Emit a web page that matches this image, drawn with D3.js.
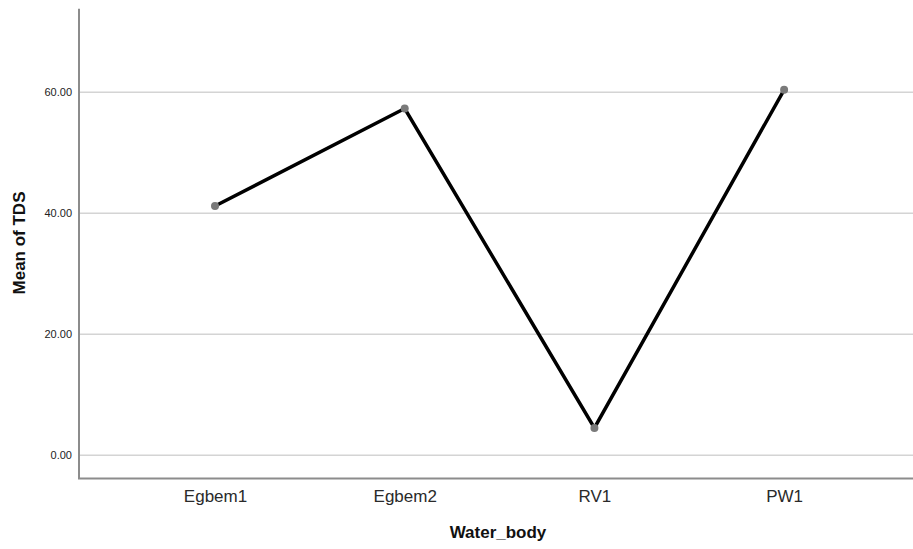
<!DOCTYPE html>
<html>
<head>
<meta charset="utf-8">
<script src="https://cdn.jsdelivr.net/npm/d3@7"></script>
<style>
  html, body { margin: 0; padding: 0; background: #fff; }
  svg { display: block; }
</style>
</head>
<body>
<svg id="chart" width="913" height="549"></svg>
<script>
const categories = ["Egbem1", "Egbem2", "RV1", "PW1"];
const meanTDS = [41.2, 57.3, 4.5, 60.4];
const yTicks = [0, 20, 40, 60];
const yTitle = "Mean of TDS";
const xTitle = "Water_body";

(function () {
const W = 913, H = 549;
const mLeft = 79, mTop = 8.75, mBottom = 478.6;
const svg = d3.select("#chart");
const font = "Liberation Sans, Arial, sans-serif";

const y = d3.scaleLinear().domain([-3.87, 73.8]).range([mBottom, mTop]);
const x = d3.scalePoint().domain(categories).range([mLeft, mLeft + 189.7 * 4.434]).padding(0.717);

// gridlines
svg.append("g").selectAll("line").data(yTicks).join("line")
  .attr("x1", mLeft).attr("x2", W)
  .attr("y1", d => y(d)).attr("y2", d => y(d))
  .attr("stroke", "#d4d4d4").attr("stroke-width", 1.5);

// y axis
const yAxis = d3.axisLeft(y).tickValues(yTicks).tickFormat(d3.format(".2f")).tickSize(0).tickPadding(7);
const gy = svg.append("g").attr("transform", `translate(${mLeft},0)`).call(yAxis);
gy.select(".domain").remove();
gy.selectAll("text").attr("font-family", font).attr("font-size", 11).attr("fill", "#222");

// x axis
const xAxis = d3.axisBottom(x).tickSize(0).tickPadding(11);
const gx = svg.append("g").attr("transform", `translate(0,${mBottom})`).call(xAxis);
gx.select(".domain").remove();
gx.selectAll("text").attr("font-family", font).attr("font-size", 17).attr("fill", "#2a2a2a");

// axis lines
svg.append("line").attr("x1", mLeft).attr("x2", mLeft).attr("y1", mTop).attr("y2", mBottom)
  .attr("stroke", "#8c8c8c").attr("stroke-width", 2);
svg.append("line").attr("x1", mLeft - 1).attr("x2", W).attr("y1", mBottom).attr("y2", mBottom)
  .attr("stroke", "#8c8c8c").attr("stroke-width", 2);

// line
const line = d3.line().x((d, i) => x(categories[i])).y(d => y(d));
svg.append("path").datum(meanTDS).attr("d", line)
  .attr("fill", "none").attr("stroke", "#000").attr("stroke-width", 3.5).attr("stroke-linejoin", "miter");

// points
svg.append("g").selectAll("circle").data(meanTDS).join("circle")
  .attr("cx", (d, i) => x(categories[i])).attr("cy", d => y(d)).attr("r", 4)
  .attr("fill", "#7a7a7a");

// titles
svg.append("text").attr("x", 498).attr("y", 538)
  .attr("text-anchor", "middle").attr("font-family", font)
  .attr("font-size", 17).attr("font-weight", "bold").attr("fill", "#111").text(xTitle);

svg.append("text").attr("transform", `translate(25,243) rotate(-90)`)
  .attr("text-anchor", "middle").attr("font-family", font)
  .attr("font-size", 17).attr("font-weight", "bold").attr("fill", "#111").text(yTitle);
})();
</script>
</body>
</html>
